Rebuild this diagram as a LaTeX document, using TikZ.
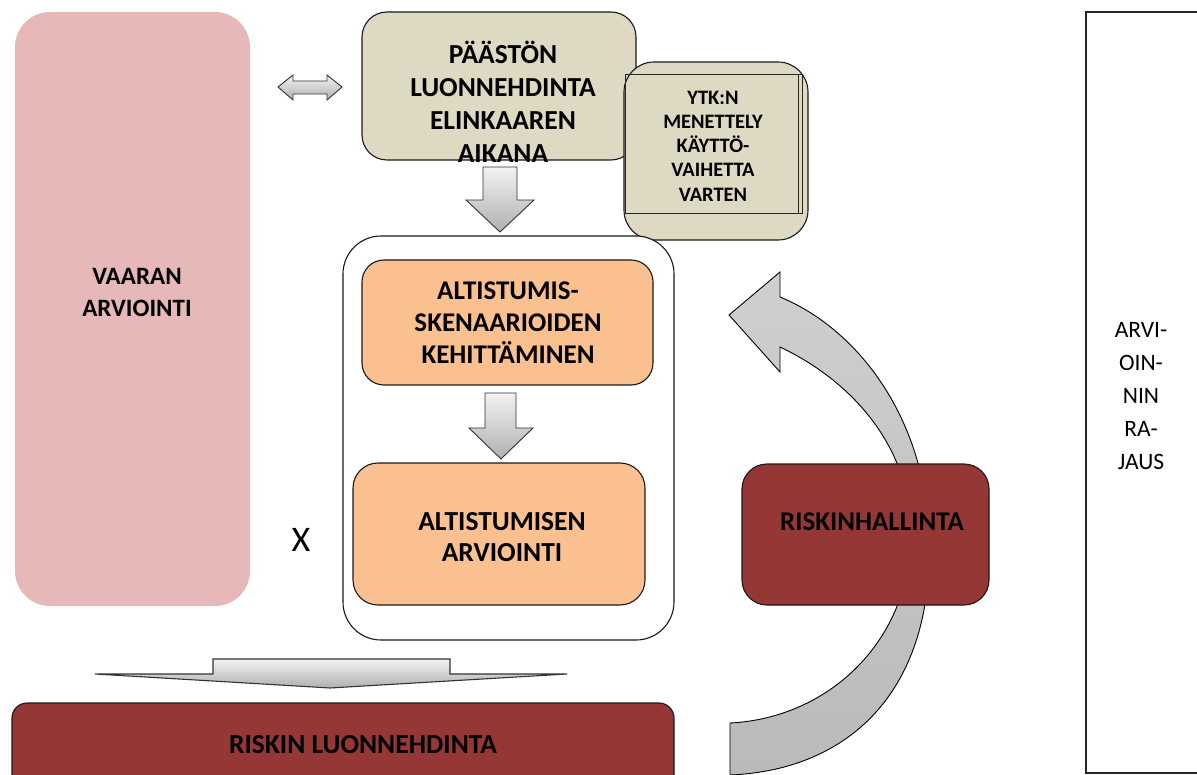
\documentclass[tikz,border=0pt]{standalone}
\usepackage{fontspec}
\setmainfont{Carlito}
\usetikzlibrary{calc}
\definecolor{pinkf}{HTML}{E6B9B8}
\definecolor{tanf}{HTML}{DDD9C3}
\definecolor{orangef}{HTML}{FAC090}
\definecolor{redf}{HTML}{953735}
\definecolor{gtop}{HTML}{F2F2F2}
\definecolor{gbot}{HTML}{B0B0B0}
\definecolor{ctop}{HTML}{CFCFCF}
\definecolor{cbot}{HTML}{BABABA}
\newcommand\myfs[2]{\fontsize{#1}{#2}\selectfont}
\begin{document}
\begin{tikzpicture}[x=1pt,y=-1pt,
  box/.style={draw=black!90, line width=1.1pt, inner sep=0pt},
  lbl/.style={align=center, inner sep=0pt, text=black},
  blockarrow/.style={draw=black!80, line width=0.9pt, top color=gtop, bottom color=gbot}]
\useasboundingbox (0,0) rectangle (1197,775);

% left: VAARAN ARVIOINTI
\node[fill=pinkf, rounded corners=35pt, inner sep=0pt, minimum width=235, minimum height=594] (vaara) at (132.5,309) {};
\node[lbl, font=\myfs{25}{32}\bfseries] (vaaraT) at (137,292) {VAARAN\\ARVIOINTI};

% double arrow
\draw[blockarrow] (278,87) -- (293,75) -- (293,81) -- (327,81) -- (327,75) -- (342,87) -- (327,100) -- (327,94) -- (293,94) -- (293,100) -- cycle;

% PAASTON box
\node[box, fill=tanf, rounded corners=25pt, minimum width=274, minimum height=148] (paas) at (499,86) {};
\node[lbl, font=\myfs{27.5}{33}\bfseries] (paasT) at (503,102) {PÄÄSTÖN\\LUONNEHDINTA\\ELINKAAREN\\AIKANA};

% YTK box
\node[box, fill=tanf, rounded corners=30pt, minimum width=184, minimum height=178] (ytk) at (716,151) {};
\node[draw=black!85, line width=1pt, inner sep=0pt, minimum width=177, minimum height=139] (ytkin) at (713.5,144.5) {};
\draw[black!85, line width=0.8pt] (798,75) -- (798,214);
\node[lbl, font=\myfs{20.5}{24.2}\bfseries] (ytkT) at (713,146) {YTK:N\\MENETTELY\\KÄYTTÖ-\\VAIHETTA\\VARTEN};

% down arrow 1
\draw[blockarrow] (483,167) -- (517,167) -- (517,200) -- (534,200) -- (500,232) -- (466,200) -- (483,200) -- cycle;

% container
\node[box, fill=white, rounded corners=38pt, minimum width=331, minimum height=404] (cont) at (508.5,438) {};

% ALTISTUMIS box
\node[box, fill=orangef, rounded corners=22pt, minimum width=291, minimum height=125] (alt1) at (507.5,322.5) {};
\node[lbl, font=\myfs{27}{32}\bfseries] (alt1T) at (508,323) {ALTISTUMIS-\\SKENAARIOIDEN\\KEHITTÄMINEN};

% down arrow 2
\draw[blockarrow] (485,393) -- (516,393) -- (516,428) -- (533,428) -- (501,459) -- (469,428) -- (485,428) -- cycle;

% ALTISTUMISEN box
\node[box, fill=orangef, rounded corners=25pt, minimum width=292, minimum height=142] (alt2) at (499,534) {};
\node[lbl, font=\myfs{27.5}{31}\bfseries] (alt2T) at (502,537.5) {ALTISTUMISEN\\ARVIOINTI};

% X
\node[lbl, font=\myfs{36}{40}] (xx) at (301,540) {X};

% wide down arrow
\draw[blockarrow, line width=1.1pt] (213,659) -- (450,659) -- (450,674) -- (567,674) -- (330,688) -- (95,674) -- (213,674) -- cycle;

% RISKIN LUONNEHDINTA
\node[box, fill=redf, rounded corners=15pt, minimum width=662, minimum height=87] (riskl) at (343,746.5) {};
\node[lbl, font=\myfs{27.5}{30}\bfseries] (risklT) at (363,745) {RISKIN LUONNEHDINTA};

% curved arrow
\draw[draw=black, line width=0.9pt, top color=ctop, bottom color=cbot]
  (730,775) .. controls (850,770) and (935,690) .. (929,535)
  .. controls (925,420) and (860,330) .. (780,297)
  -- (780,272) -- (729,315) -- (780,372) -- (780,347)
  .. controls (860,385) and (912,455) .. (911,535)
  .. controls (910,640) and (830,718) .. (730,723) -- cycle;

% RISKINHALLINTA
\node[box, fill=redf, rounded corners=25pt, minimum width=247, minimum height=141] (riskh) at (865.5,534.5) {};
\node[lbl, font=\myfs{27}{30}\bfseries] (riskhT) at (872,522) {RISKINHALLINTA};

% ARVIOINNIN RAJAUS
\node[draw=black!85, line width=1.1pt, inner sep=0pt, minimum width=124, minimum height=761] (raj) at (1148,392.5) {};
\node[lbl, font=\myfs{23.5}{33}] (rajT) at (1141,396) {ARVI-\\OIN-\\NIN\\RA-\\JAUS};
\end{tikzpicture}
\end{document}
